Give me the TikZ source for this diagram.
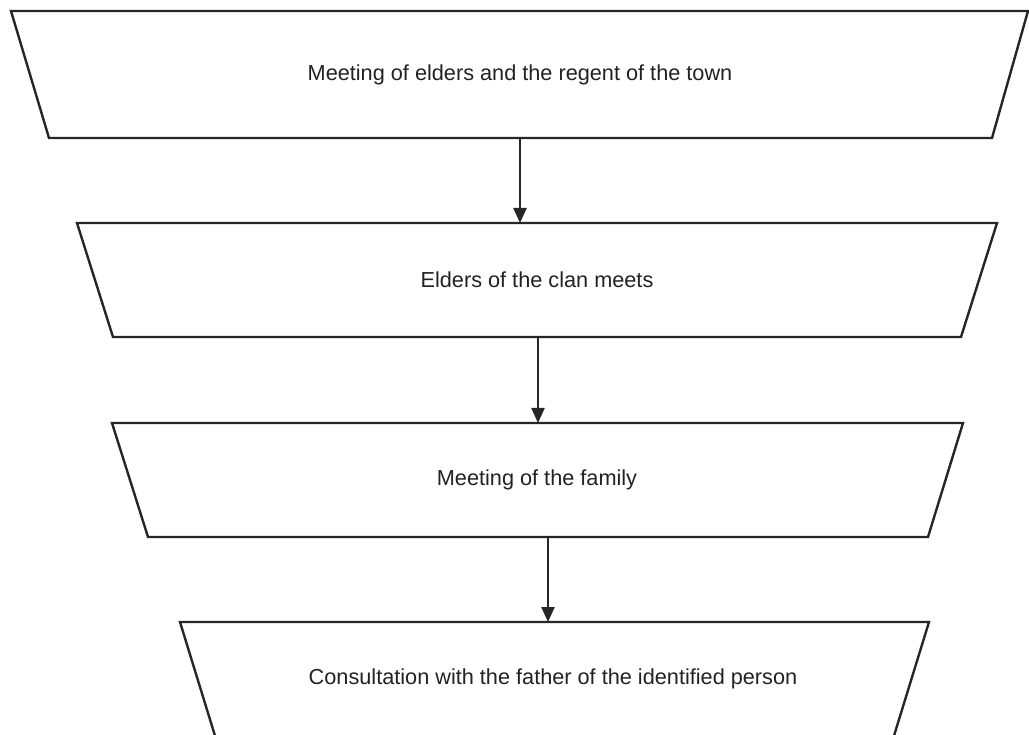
\documentclass[tikz,border=0pt]{standalone}
\usepackage{fontspec}
\setmainfont{Liberation Sans}
\usepackage{xcolor}
\usepackage{tikz}
\usetikzlibrary{arrows.meta, positioning, calc}
\definecolor{edgegray}{HTML}{262626}
\definecolor{textgray}{HTML}{222222}

\begin{document}
\begin{tikzpicture}[x=1pt, y=-1pt, >={Triangle[width=13pt,length=15pt]}]
    \tikzstyle{stage} = [draw=edgegray, line width=2.4pt, line join=miter]
    \tikzstyle{label} = [text=textgray, font=\fontsize{21.7}{26}\selectfont, align=center]
    \tikzstyle{link} = [draw, ->, line width=2.4pt, color=edgegray]

    \useasboundingbox (0,0) rectangle (1029,735);

    % funnel stages
    \draw [stage] (11,11) -- (1028,11) -- (992,138) -- (49,138) -- cycle;
    \draw [stage] (77,223) -- (997,223) -- (961,337) -- (113,337) -- cycle;
    \draw [stage] (112,423) -- (963,423) -- (928,537) -- (148,537) -- cycle;
    \draw [stage] (180,622) -- (929,622) -- (893,739) -- (216,739) -- cycle;

    \node [label] (s1) at (520,75) {Meeting of elders and the regent of the town};
    \node [label] (s2) at (537,280) {Elders of the clan meets};
    \node [label] (s3) at (537,480) {Meeting of the family};
    \node [label] (s4) at (553,679) {Consultation with the father of the identified person};

    % arrow ends on the edges
    \coordinate (s1b) at (520,138);
    \coordinate (s2t) at (520,223);
    \coordinate (s2b) at (538,337);
    \coordinate (s3t) at (538,423);
    \coordinate (s3b) at (548,537);
    \coordinate (s4t) at (548,622);

    \path [link] (s1b) -- (s2t);
    \path [link] (s2b) -- (s3t);
    \path [link] (s3b) -- (s4t);
\end{tikzpicture}
\end{document}
